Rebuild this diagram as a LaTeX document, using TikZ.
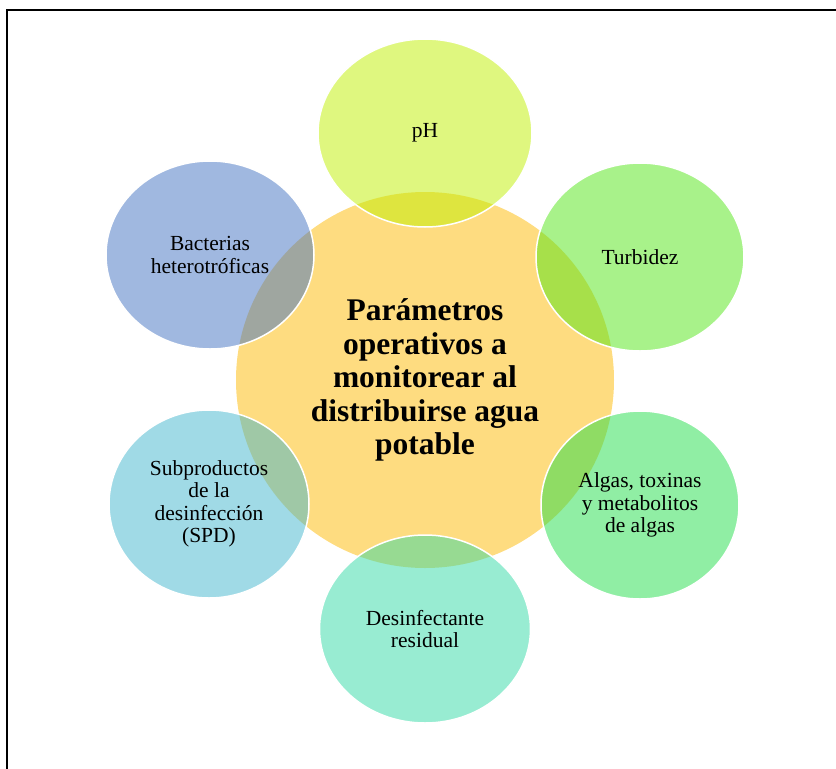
\documentclass[tikz,border=0pt]{standalone}
\usepackage{fontspec}
\setmainfont{Liberation Serif}
\usepackage{tikz}
\usetikzlibrary{shapes.geometric}

\definecolor{centro}{RGB}{254,220,128}
\definecolor{colph}{RGB}{191,239,0}
\definecolor{colturb}{RGB}{81,229,21}
\definecolor{colalgas}{RGB}{33,221,73}
\definecolor{coldesinf}{RGB}{49,217,165}
\definecolor{colspd}{RGB}{65,181,205}
\definecolor{colbact}{RGB}{65,113,193}

\begin{document}
\begin{tikzpicture}[x=1pt, y=-1pt,
      every node/.append style={align=center,text=black,font=\fontsize{21.5}{22.5}\selectfont}]
    \tikzstyle{param} = [ellipse,draw=white,line width=1.5pt,fill opacity=0.5,
      text opacity=1,draw opacity=1,minimum width=208pt,minimum height=188pt,inner sep=0pt]
    \tikzstyle{tema} = [ellipse,fill=centro,minimum width=378pt,minimum height=376pt,
      inner sep=0pt,font=\fontsize{31.5}{33.5}\selectfont\bfseries]
    \useasboundingbox (0,0) rectangle (836,769);
    \draw[line width=2pt] (836,10) -- (7,10) -- (7,769);
    \node (tema) [tema] at (425,380)
      {Parámetros\\operativos a\\monitorear al\\distribuirse agua\\potable};
    \node (ph) [param,fill=colph,minimum width=214pt] at (425,133) {pH};
    \node (turb) [param,fill=colturb] at (640,257) {Turbidez};
    \node (algas) [param,fill=colalgas,minimum width=198pt] at (640,505)
      {Algas, toxinas\\y metabolitos\\de algas};
    \node (desinf) [param,fill=coldesinf,minimum width=211pt] at (425,629) {Desinfectante\\residual};
    \node (spd) [param,fill=colspd,minimum width=200pt] at (209,504)
      {Subproductos\\de la\\desinfección\\(SPD)};
    \node (bact) [param,fill=colbact] at (210,255) {Bacterias\\heterotróficas};
\end{tikzpicture}
\end{document}
